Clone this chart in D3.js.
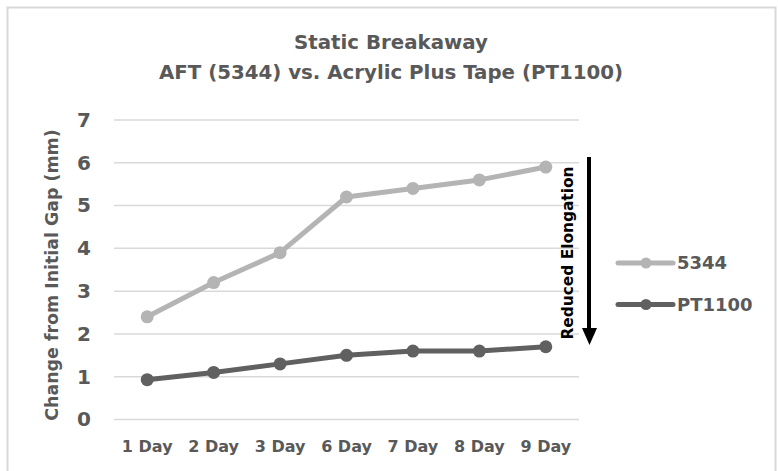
<!DOCTYPE html>
<html>
<head>
<meta charset="utf-8">
<script src="https://cdn.jsdelivr.net/npm/d3@7"></script>
<style>
  body { margin: 0; background: #fff; }
  svg { display: block; }
  text { font-family: "DejaVu Sans", sans-serif; font-weight: bold; fill: #595959; }
</style>
</head>
<body>
<svg id="chart" width="778" height="471"></svg>
<script>
// data
var days = ['1 Day', '2 Day', '3 Day', '6 Day', '7 Day', '8 Day', '9 Day'];
var aft5344 = [2.4, 3.2, 3.9, 5.2, 5.4, 5.6, 5.9];
var pt1100 = [0.93, 1.1, 1.3, 1.5, 1.6, 1.6, 1.7];
var yTicks = [0, 1, 2, 3, 4, 5, 6, 7];
var titleLines = ['Static Breakaway', 'AFT (5344) vs. Acrylic Plus Tape (PT1100)'];

var series = [
  {name: '5344', values: aft5344, color: '#b4b4b4'},
  {name: 'PT1100', values: pt1100, color: '#606060'}
];

var svg = d3.select('#chart');

// outer frame
svg.append('rect')
  .attr('x', 7.5).attr('y', 7.5).attr('width', 768).attr('height', 480)
  .attr('fill', 'none').attr('stroke', '#d9d9d9').attr('stroke-width', 2);

var x = d3.scaleBand().domain(days).range([114, 579]);
var y = d3.scaleLinear().domain([0, 7]).range([419.5, 120]);

// title
svg.selectAll('.title').data(titleLines).enter().append('text')
  .attr('class', 'title')
  .attr('x', 391)
  .attr('y', function(d, i) { return 49 + i * 30; })
  .attr('text-anchor', 'middle')
  .style('font-size', '19.8px')
  .text(function(d) { return d; });

// gridlines
svg.append('g').selectAll('line').data(yTicks).enter().append('line')
  .attr('x1', 114).attr('x2', 579)
  .attr('y1', function(d) { return y(d); })
  .attr('y2', function(d) { return y(d); })
  .attr('stroke', '#d9d9d9').attr('stroke-width', 1.5);

// y axis
var yAxis = svg.append('g')
  .attr('transform', 'translate(91,0)')
  .call(d3.axisLeft(y).tickValues(yTicks).tickFormat(d3.format('d')).tickSize(0).tickPadding(0));
yAxis.select('.domain').remove();
yAxis.selectAll('text')
  .style('font-size', '20px').attr('fill', '#595959');

// x axis
var xAxis = svg.append('g')
  .attr('transform', 'translate(0,' + 441 + ')')
  .call(d3.axisBottom(x).tickSize(0).tickPadding(0));
xAxis.select('.domain').remove();
xAxis.selectAll('text')
  .style('font-size', '16px').attr('fill', '#595959');

// y axis title
svg.append('text')
  .attr('transform', 'translate(58,' + 275 + ') rotate(-90)')
  .attr('text-anchor', 'middle')
  .style('font-size', '17.4px')
  .text('Change from Initial Gap (mm)');

// lines and markers
var line = d3.line()
  .x(function(d, i) { return x(days[i]) + x.bandwidth() / 2; })
  .y(function(d) { return y(d); });

series.forEach(function(s) {
  svg.append('path')
    .attr('d', line(s.values))
    .attr('fill', 'none')
    .attr('stroke', s.color)
    .attr('stroke-width', 5)
    .attr('stroke-linejoin', 'round');
  svg.append('g').selectAll('circle').data(s.values).enter().append('circle')
    .attr('cx', function(d, i) { return x(days[i]) + x.bandwidth() / 2; })
    .attr('cy', function(d) { return y(d); })
    .attr('r', 6.5)
    .attr('fill', s.color);
});

// annotation arrow
svg.append('line')
  .attr('x1', 589).attr('x2', 589).attr('y1', 157).attr('y2', 330)
  .attr('stroke', '#000').attr('stroke-width', 4);
svg.append('path')
  .attr('d', 'M582,328 L597,328 L589.5,345 Z')
  .attr('fill', '#000');
svg.append('text')
  .attr('transform', 'translate(573,' + 253 + ') rotate(-90)')
  .attr('text-anchor', 'middle')
  .style('font-size', '15.4px')
  .style('fill', '#000')
  .text('Reduced Elongation');

// legend
var legend = svg.append('g').selectAll('g').data(series).enter().append('g')
  .attr('transform', function(d, i) { return 'translate(618,' + (263 + i * 41.5) + ')'; });
legend.append('line')
  .attr('x1', 0).attr('x2', 55)
  .attr('stroke', function(d) { return d.color; })
  .attr('stroke-width', 5).attr('stroke-linecap', 'round');
legend.append('circle')
  .attr('cx', 28).attr('r', 5.5)
  .attr('fill', function(d) { return d.color; });
legend.append('text')
  .attr('x', 59).attr('dy', '0.36em')
  .style('font-size', '18px')
  .text(function(d) { return d.name; });
</script>
</body>
</html>
